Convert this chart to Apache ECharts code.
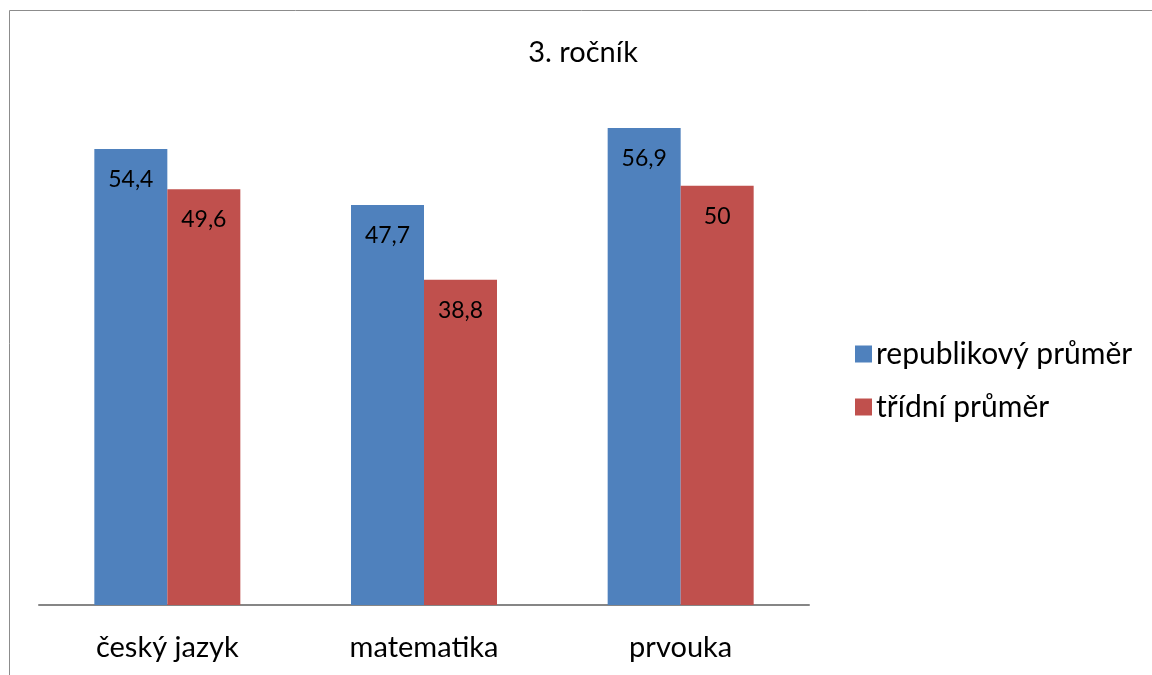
<!DOCTYPE html>
<html>
<head>
<meta charset="UTF-8">
<title>3. ročník</title>
<script src="https://cdn.jsdelivr.net/npm/echarts@6/dist/echarts.min.js"></script>
<style>
  html, body { margin: 0; padding: 0; background: #fff; }
  #main { width: 1152px; height: 675px; }
</style>
</head>
<body>
<div id="main"></div>
<script type="text/javascript">
var categories = ['český jazyk', 'matematika', 'prvouka'];
var republikovy = [54.4, 47.7, 56.9];
var tridni = [49.6, 38.8, 50];
var seriesNames = ['republikový průměr', 'třídní průměr'];

var FONT = 'Lato';
var myChart = echarts.init(document.getElementById('main'));

function fmt(p) {
  return String(p.value).replace('.', ',');
}

var option = {
  animation: false,
  backgroundColor: '#fff',
  color: ['#4F81BD', '#C0504D'],
  textStyle: { fontFamily: FONT },
  title: {
    text: '3. ročník',
    left: 578,
    textAlign: 'center',
    top: 33,
    textStyle: { fontFamily: FONT, fontSize: 29, fontWeight: 'normal', color: '#000' }
  },
  legend: {
    orient: 'vertical',
    left: 850,
    top: 334,
    itemWidth: 17,
    itemHeight: 17,
    itemGap: 23,
    icon: 'rect',
    textStyle: { fontFamily: FONT, fontSize: 30, color: '#000', padding: [0, 0, 0, -1] },
    data: seriesNames
  },
  graphic: [{
    type: 'rect',
    shape: { x: 9.5, y: 10.5, width: 1200, height: 700 },
    style: { fill: 'none', stroke: '#8c8c8c', lineWidth: 1 },
    silent: true
  }],
  grid: { left: 39, right: 343, top: 102, bottom: 70 },
  xAxis: {
    type: 'category',
    data: categories,
    axisTick: { show: false },
    axisLine: { lineStyle: { color: '#868686', width: 2 } },
    axisLabel: { fontFamily: FONT, fontSize: 29, color: '#000', margin: 28 }
  },
  yAxis: {
    type: 'value',
    min: 0,
    max: 60,
    show: false,
    splitLine: { show: false }
  },
  series: [{
    name: seriesNames[0],
    type: 'bar',
    barWidth: 73,
    barGap: '0%',
    data: republikovy,
    label: { show: true, position: 'insideTop', distance: 19, fontFamily: FONT, fontSize: 23, color: '#000', formatter: fmt }
  }, {
    name: seriesNames[1],
    type: 'bar',
    barWidth: 73,
    barGap: '0%',
    data: tridni,
    label: { show: true, position: 'insideTop', distance: 19, fontFamily: FONT, fontSize: 23, color: '#000', formatter: fmt }
  }]
};
myChart.setOption(option);
</script>
</body>
</html>
